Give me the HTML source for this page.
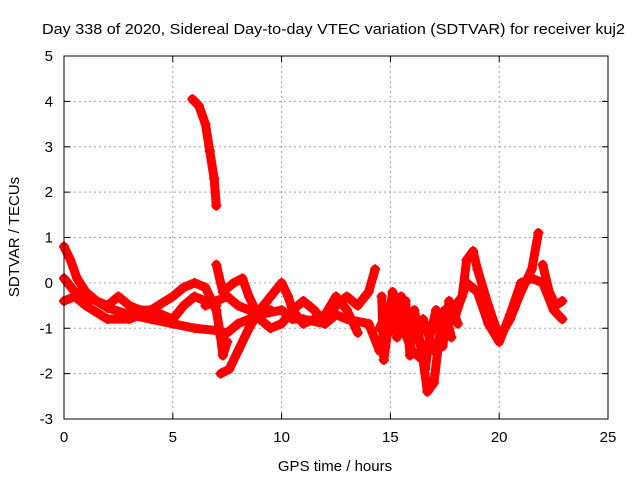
<!DOCTYPE html>
<html><head><meta charset="utf-8"><style>
body{margin:0;background:#fff}
svg{display:block;font-family:"Liberation Sans",sans-serif}
</style></head><body>
<svg id="c" width="640" height="480" xmlns="http://www.w3.org/2000/svg">
<text x="42" y="34" font-size="15" textLength="583" lengthAdjust="spacingAndGlyphs">Day 338 of 2020, Sidereal Day-to-day VTEC variation (SDTVAR) for receiver kuj2</text>
<text x="335" y="471" font-size="15" text-anchor="middle">GPS time / hours</text>
<text x="19" y="237" font-size="15" text-anchor="middle" transform="rotate(-90 19 237)">SDTVAR / TECUs</text>
<g id="grid"></g><g id="ticks"></g><g id="marks"></g>
<rect x="64" y="56" width="544" height="363" fill="none" stroke="#000" stroke-width="1"/>
</svg>
<script>
const xTicks=[0,5,10,15,20,25];
const yTicks=[-3,-2,-1,0,1,2,3,4,5];
const track1=[[5.9,4.05],[6.2,3.9],[6.5,3.5],[6.7,2.9],[6.9,2.3],[7.0,1.7]];
const track2=[[0,0.8],[0.3,0.5],[0.6,0.1],[1,-0.2],[1.5,-0.4],[2,-0.55],[3,-0.7],[4,-0.8],[5,-0.9],[6,-1.0],[7,-1.05],[7.5,-1.1],[8,-0.9],[9,-0.7],[9.5,-0.6]];
const track3=[[0,-0.4],[0.5,-0.3],[1,-0.5],[2,-0.8],[3,-0.8],[4,-0.6],[5,-0.3],[5.5,-0.1],[6,0.0],[6.5,-0.1],[7,-0.6],[7.2,-1.2],[7.3,-1.6],[7.5,-1.3]];
const track4=[[0,0.1],[0.5,-0.2],[1,-0.3],[2,-0.5],[2.5,-0.3],[3,-0.5],[3.5,-0.6],[4,-0.6],[5,-0.8],[5.5,-0.5],[6,-0.3],[6.5,-0.4],[7,-0.5]];
const track5=[[7.2,-2.0],[7.6,-1.9],[8,-1.5],[8.5,-1.0],[9,-0.6],[9.5,-0.3],[10,0.0],[10.3,-0.3],[10.5,-0.6],[11,-0.9],[12,-0.7],[12.5,-0.3],[13,-0.6],[13.5,-1.1]];
const track6=[[7.0,0.4],[7.3,-0.2],[7.8,0.0],[8.2,0.1],[8.5,-0.3],[9,-0.8],[9.5,-1.0],[10,-0.9],[10.5,-0.6],[11,-0.4],[11.5,-0.6],[12,-0.9],[12.5,-0.5],[13,-0.3],[13.5,-0.5],[14,-0.2],[14.3,0.3]];
const track7=[[6.5,-0.5],[7,-0.4],[7.5,-0.3],[8,-0.5],[8.5,-0.6],[9,-0.7],[10,-0.6],[10.5,-0.8],[11,-0.8],[12,-0.9],[12.5,-0.7],[13,-0.8],[14,-0.9],[14.5,-1.5],[15,-1.0],[15.2,-0.3],[15.5,-0.9],[16,-1.5],[16.5,-1.7],[16.7,-2.4],[17,-2.2],[17.3,-1.0],[17.5,-0.6],[17.8,-1.2]];
const track8=[[14.5,-1.0],[15,-0.5],[15.5,-0.3],[15.8,-1.0],[16.2,-1.2],[16.5,-0.8],[17,-1.5],[17.5,-1.1],[18,-0.5],[18.3,-0.3],[18.5,0.5],[18.8,0.7],[19,0.3],[19.5,-0.5],[20,-1.2],[20.5,-0.8],[21,-0.2],[21.5,0.3],[21.8,1.1]];
const track9=[[18,-0.7],[18.5,0.0],[19,-0.2],[19.5,-0.9],[20,-1.3],[20.5,-0.7],[21,0.0],[21.5,0.1],[22,0.0],[22.5,-0.6],[22.9,-0.8]];
const track10=[[22,0.4],[22.3,-0.2],[22.6,-0.5],[22.9,-0.4]];
const track11=[[14.6,-0.3],[14.7,-1.7],[15.1,-0.2],[15.3,-1.2],[15.7,-0.4],[15.9,-1.6],[16.1,-0.6],[16.4,-1.4],[16.6,-1.9],[16.8,-1.2],[17.1,-0.6],[17.4,-1.4],[17.7,-0.4],[18.1,-0.9]];
const tracks=[track1,track2,track3,track4,track5,track6,track7,track8,track9,track10,track11];
const NS="http://www.w3.org/2000/svg";
const X=v=>64+v*544/25, Y=v=>419-(v+3)*363/8;
function mk(t,a,p){const e=document.createElementNS(NS,t);for(const k in a)e.setAttribute(k,a[k]);p.appendChild(e);return e;}
const g=document.getElementById('grid'),tk=document.getElementById('ticks'),m=document.getElementById('marks');
xTicks.forEach(v=>{const x=X(v);
 if(v>0&&v<25){const l=mk('line',{x1:x,x2:x,y1:56,y2:419,stroke:'#a0a0a0','stroke-dasharray':'2,3'},g);
 }
 mk('line',{x1:x,x2:x,y1:419,y2:413,stroke:'#000'},tk);mk('line',{x1:x,x2:x,y1:56,y2:62,stroke:'#000'},tk);
 const t=mk('text',{x:x,y:442,'font-size':15,'text-anchor':'middle'},tk);t.textContent=v;
 });
yTicks.forEach(v=>{const y=Y(v);
 if(v>-3&&v<5){const l=mk('line',{x1:64,x2:608,y1:y,y2:y,stroke:'#a0a0a0','stroke-dasharray':'2,3'},g);
 }
 mk('line',{x1:64,x2:70,y1:y,y2:y,stroke:'#000'},tk);mk('line',{x1:608,x2:602,y1:y,y2:y,stroke:'#000'},tk);
 const t=mk('text',{x:53,y:y+5,'font-size':15,'text-anchor':'end'},tk);t.textContent=v;
 });
tracks.forEach(tr=>{
 const pl=mk('polyline',{points:tr.map(p=>X(p[0])+','+Y(p[1])).join(' '),fill:'none',stroke:'#ff0000','stroke-width':9,'stroke-linejoin':'round','stroke-linecap':'round'},m);
 
 tr.forEach(p=>{const x=X(p[0]),y=Y(p[1]);
  const pt=mk('path',{d:`M${x-5},${y}h10M${x},${y-5}v10`,stroke:'#ff0000','stroke-width':2},m);
  });
});
</script>
</body></html>
